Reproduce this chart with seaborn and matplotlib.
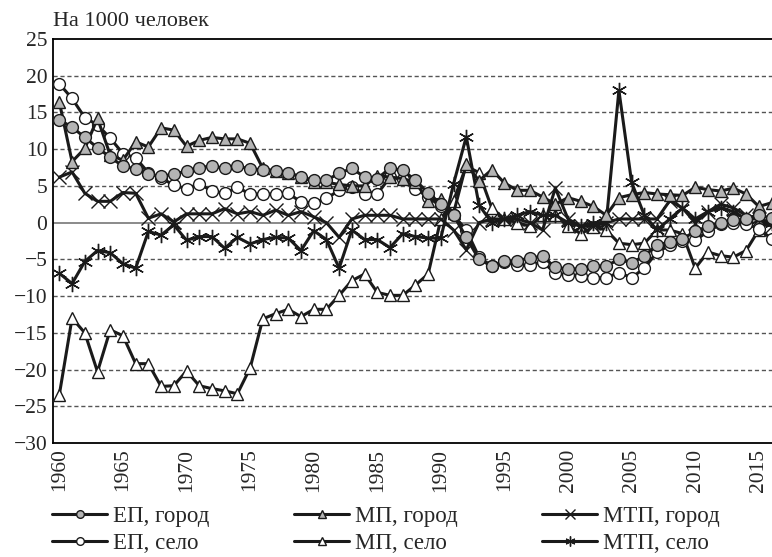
import numpy as np
import pandas as pd
import matplotlib
matplotlib.use("Agg")
import matplotlib.pyplot as plt
import seaborn as sns
from matplotlib.lines import Line2D

years = list(range(1960, 2017))

ep_gorod = [14.0, 13.0, 11.6, 10.2, 8.9, 7.7, 7.3, 6.6, 6.3, 6.6,
            7.0, 7.5, 7.7, 7.4, 7.7, 7.3, 7.2, 7.0, 6.8, 6.2,
            5.8, 5.8, 6.7, 7.4, 6.2, 6.0, 7.4, 7.1, 5.8, 4.0,
            2.6, 1.0, -2.0, -5.0, -5.9, -5.2, -5.2, -4.8, -4.6, -6.1,
            -6.3, -6.3, -5.9, -5.9, -5.0, -5.5, -4.5, -3.1, -2.6, -2.2,
            -1.2, -0.5, 0.0, 0.3, 0.5, 1.0, 0.6]
ep_selo = [18.9, 16.9, 14.3, 13.3, 11.5, 9.4, 8.8, 6.8, 6.1, 5.1,
           4.6, 5.3, 4.3, 4.0, 4.8, 3.9, 3.9, 3.9, 4.0, 2.8,
           2.7, 3.3, 4.4, 4.9, 3.9, 3.9, 6.2, 5.9, 4.6, 3.5,
           2.2, 1.0, -1.0, -4.7, -5.9, -5.3, -5.8, -5.8, -5.3, -6.9,
           -7.1, -7.2, -7.5, -7.5, -6.8, -7.5, -6.2, -4.0, -3.1, -2.5,
           -2.4, -1.2, -0.2, -0.1, -0.2, -0.8, -2.2]
mp_gorod = [16.4, 8.3, 10.1, 14.2, 9.2, 8.5, 11.0, 10.3, 12.9, 12.6,
            10.4, 11.2, 11.6, 11.4, 11.4, 10.8, 7.4, 7.0, 6.8, 6.2,
            5.6, 5.5, 5.2, 5.0, 5.0, 6.4, 6.2, 6.0, 5.5, 3.0,
            3.2, 1.3, 8.0, 5.7, 7.2, 5.4, 4.4, 4.4, 3.5, 2.5,
            3.4, 2.9, 2.2, 1.0, 3.4, 3.8, 4.1, 3.9, 3.8, 3.7,
            4.8, 4.5, 4.3, 4.7, 3.9, 2.2, 2.7]
mp_selo = [-23.4, -13.0, -15.0, -20.3, -14.6, -15.4, -19.2, -19.2, -22.3, -22.2,
           -20.2, -22.2, -22.6, -22.9, -23.3, -19.8, -13.1, -12.4, -11.8, -12.8,
           -11.8, -11.8, -9.9, -7.9, -7.0, -9.5, -9.9, -9.9, -8.5, -7.0,
           0.5, 3.0, 7.7, 6.8, 2.0, 0.5, 0.0, -0.5, 1.0, 1.0,
           -0.5, -1.5, -0.6, -1.0, -2.8, -3.0, -2.8, -1.0, -1.0, -1.5,
           -6.2, -4.0, -4.5, -4.7, -3.8, -1.0, 0.5]
mtp_gorod = [6.2, 6.9, 4.0, 2.9, 2.9, 4.1, 4.0, 0.6, 1.2, 0.1,
             1.2, 1.2, 1.2, 1.9, 1.2, 1.5, 1.0, 1.7, 1.0, 1.5,
             0.8, 0.0, -2.0, 0.5, 1.0, 1.0, 1.0, 0.5, 0.5, 0.5,
             0.5, -1.0, -3.7, 0.0, 0.5, 0.5, 0.5, 0.0, -1.0, 4.7,
             0.5, -0.5, -0.5, 0.0, 0.5, 0.5, 0.5, 0.5, 3.0, 2.0,
             0.0, 1.5, 2.5, 2.0, 1.0, 0.5, -0.5]
mtp_selo = [-6.9, -8.3, -5.3, -3.8, -4.1, -5.6, -6.2, -1.2, -1.7, -0.3,
            -2.4, -1.9, -1.9, -3.5, -2.0, -2.9, -2.3, -2.0, -2.1, -3.8,
            -1.1, -2.3, -6.2, -1.0, -2.3, -2.3, -3.4, -1.5, -1.9, -2.1,
            -2.1, 5.3, 11.7, 2.4, 0.0, 0.5, 1.0, 1.5, 1.0, 1.0,
            0.0, -0.5, 0.0, 0.0, 18.0, 5.5, 1.0, -1.0, 0.5, 2.0,
            0.5, 1.5, 2.0, 1.5, 0.5, 0.5, 0.0]

labels = ["ЕП, город", "МП, город", "МТП, город", "ЕП, село", "МП, село", "МТП, село"]
series = [ep_gorod, mp_gorod, mtp_gorod, ep_selo, mp_selo, mtp_selo]
y_ticks = [25, 20, 15, 10, 5, 0, -5, -10, -15, -20, -25, -30]
x_ticks = [1960, 1965, 1970, 1975, 1980, 1985, 1990, 1995, 2000, 2005, 2010, 2015]

GRAY = "#b4b4b4"
INK = "#1a1a1a"
styles = {
    "ЕП, город": dict(marker="o", markerfacecolor=GRAY, markersize=8.5),
    "МП, город": dict(marker="^", markerfacecolor=GRAY, markersize=8.5),
    "МТП, город": dict(marker="x", markerfacecolor=INK, markersize=10, markeredgewidth=1.0),
    "ЕП, село": dict(marker="o", markerfacecolor="white", markersize=8.5),
    "МП, село": dict(marker="^", markerfacecolor="white", markersize=8.5),
    "МТП, село": dict(marker=(6, 2, 0), markerfacecolor=INK, markersize=11, markeredgewidth=1.0),
}
order = ["МП, село", "МТП, село", "МТП, город", "ЕП, село", "МП, город", "ЕП, город"]

df = pd.DataFrame({"year": years * len(labels),
                   "value": sum(series, []),
                   "series": sum([[l] * len(years) for l in labels], [])})

sns.set_style("white")
plt.rcParams["font.family"] = ["Liberation Serif", "DejaVu Serif"]

fig = plt.figure(figsize=(7.72, 5.57), dpi=100)
ax = fig.add_axes([53 / 772, 1 - 443 / 557, 1 - 53 / 772 + 0.001, (443 - 39) / 557])

for y in y_ticks:
    if y in (25, -30):
        continue
    if y == 0:
        ax.axhline(0, color="#777777", lw=1.2, zorder=1)
    else:
        ax.axhline(y, color="#555555", lw=1.0, ls=(0, (3, 2)), zorder=1)

for lab in order:
    st = dict(styles[lab])
    sub = df[df["series"] == lab]
    sns.lineplot(data=sub, x="year", y="value", ax=ax, color=INK, lw=2.2,
                 markeredgecolor=INK, markeredgewidth=st.pop("markeredgewidth", 1.0),
                 legend=False, zorder=3, **st)

handles = {}
for lab in labels:
    st = dict(styles[lab])
    ms = st.pop("markersize") * 0.65
    mew = st.pop("markeredgewidth", 1.0)
    handles[lab] = Line2D([], [], color=INK, lw=2.2, markeredgecolor=INK,
                          markersize=ms, markeredgewidth=mew, **st)

ax.set_xlim(1959.5, 2016.1)
ax.set_ylim(-30, 25)
ax.set_yticks(y_ticks)
ax.set_yticklabels([str(v).replace("-", "\u2212") for v in y_ticks])
ax.set_xticks(x_ticks)
ax.set_xticklabels([str(v) for v in x_ticks], rotation=90)
ax.tick_params(axis="both", labelsize=15.5, length=0, pad=4)
ax.set_xlabel("")
ax.set_ylabel("")
for s in ["left", "bottom", "top"]:
    ax.spines[s].set_color("black")
    ax.spines[s].set_linewidth(1.3)
ax.spines["right"].set_visible(False)

fig.text(53 / 772, 1 - 21 / 557, "На 1000 человек", fontsize=16, va="center", ha="left")

leg_order = ["ЕП, город", "ЕП, село", "МП, город", "МП, село", "МТП, город", "МТП, село"]
fig.legend([handles[l] for l in leg_order], leg_order, loc="center",
           bbox_to_anchor=(0.5, 1 - 530 / 557), ncol=3, frameon=False, fontsize=16.5,
           handlelength=2.4, columnspacing=3.7, handletextpad=0.25, labelspacing=0.22)

fig.savefig("out.png", dpi=100)
